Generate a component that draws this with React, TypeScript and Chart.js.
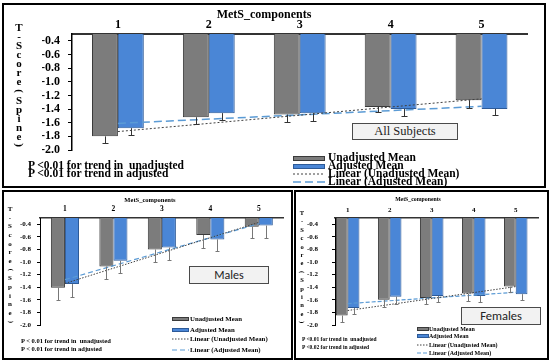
import React, { useEffect, useRef } from 'react';
import { Chart, registerables } from 'chart.js';

Chart.register(...registerables);

// ---------- shared labels ----------
const categories = ['1', '2', '3', '4', '5'];
const yTickValues = [-0.4, -0.6, -0.8, -1.0, -1.2, -1.4, -1.6, -1.8, -2.0];
const yAxisTop = -0.3;
const yAxisBottom = -2.0;
const xAxisTitle = 'MetS_components';
const yAxisTitle = 'T-Score(Spine)';
const seriesNames = ['Unadjusted Mean', 'Adjusted Mean', 'Linear (Unadjusted Mean)', 'Linear (Adjusted Mean)'];

// ---------- All subjects ----------
const allUnadjusted = [-1.80, -1.52, -1.48, -1.37, -1.27];
const allAdjusted = [-1.68, -1.46, -1.46, -1.40, -1.40];
const allUnadjustedErr = [0.10, 0.10, 0.11, 0.08, 0.11];
const allAdjustedErr = [0.10, 0.10, 0.11, 0.10, 0.09];
const allTrendUnadjusted = [-1.73, null, null, null, -1.25];
const allTrendAdjusted = [-1.61, null, null, null, -1.36];
const allPText = ['P <0.01 for trend in  unadjusted', 'P <0.01 for trend in adjusted'];
const allLabel = 'All Subjects';

// ---------- Males ----------
const maleUnadjusted = [-1.41, -1.07, -0.80, -0.57, -0.44];
const maleAdjusted = [-1.35, -0.98, -0.77, -0.64, -0.42];
const maleUnadjustedErr = [0.19, 0.20, 0.20, 0.20, 0.18];
const maleAdjustedErr = [0.20, 0.20, 0.20, 0.19, 0.20];
const maleTrendUnadjusted = [-1.34, null, null, null, -0.37];
const maleTrendAdjusted = [-1.28, null, null, null, -0.39];
const malePText = ['P < 0.01 for trend in  unadjusted', 'P < 0.01 for trend in adjusted'];
const maleLabel = 'Males';

// ---------- Females ----------
const femaleUnadjusted = [-1.85, -1.60, -1.57, -1.50, -1.39];
const femaleAdjusted = [-1.73, -1.55, -1.54, -1.54, -1.51];
const femaleUnadjustedErr = [0.10, 0.11, 0.09, 0.12, 0.09];
const femaleAdjustedErr = [0.10, 0.12, 0.10, 0.10, 0.10];
const femaleTrendUnadjusted = [-1.77, null, null, null, -1.39];
const femaleTrendAdjusted = [-1.66, null, null, null, -1.48];
const femalePText = ['P <0.01 for trend in  unadjusted', 'P <0.02 for trend in adjusted'];
const femaleLabel = 'Females';

// ---------- styles ----------
const SERIF = '"Times New Roman", "Liberation Serif", Tinos, serif';
const SANS = 'Calibri, Carlito, "Liberation Sans", Arial, sans-serif';
const GRAY = '#7c7c7c';
const GRAY_BORDER = '#3a3a3a';
const BLUE = '#4a86d6';
const BLUE_BORDER = '#2d5a98';
const TREND_U = '#404040';
const TREND_A = '#5b9bd5';
const Y_AXIS_W = 30;
const X_AXIS_H = 20;

const errorBarPlugin = {
  id: 'errorBars',
  afterDatasetsDraw(chart: any, _args: any, opts: any) {
    const ctx = chart.ctx;
    const y = chart.scales.y;
    const cap = opts.cap || 3;
    ctx.save();
    ctx.strokeStyle = opts.color || '#444';
    ctx.lineWidth = 1;
    chart.data.datasets.forEach((ds: any, di: number) => {
      if (!ds.errors) return;
      const meta = chart.getDatasetMeta(di);
      meta.data.forEach((bar: any, i: number) => {
        const v = ds.data[i];
        const e = ds.errors[i];
        const x = Math.round(bar.x) + 0.5;
        const y0 = y.getPixelForValue(v);
        const y1 = Math.round(y.getPixelForValue(v - e)) + 0.5;
        ctx.beginPath();
        ctx.moveTo(x, y0);
        ctx.lineTo(x, y1);
        ctx.moveTo(x - cap, y1);
        ctx.lineTo(x + cap, y1);
        ctx.stroke();
      });
    });
    ctx.restore();
  },
};

type Area = { left: number; top: number; right: number; bottom: number };
type PanelCfg = {
  unadj: number[]; adj: number[]; unadjErr: number[]; adjErr: number[];
  trendU: (number | null)[]; trendA: (number | null)[];
  area: Area; xMin: number; xMax: number; catPct: number;
  tickFont: number; catFont: number; tickLen: number; tickPad: number; catPad: number;
  yBorder: number; xBorder: number; cap: number; errColor: string; trendAW: number; dashA: number[]; dashU: number[];
};

function BarPanel({ cfg }: { cfg: PanelCfg }) {
  const ref = useRef<HTMLCanvasElement>(null);
  useEffect(() => {
    const a = cfg.area;
    const padding = { left: a.left - Y_AXIS_W, top: a.top - X_AXIS_H, right: 550 - a.right, bottom: 364 - a.bottom };
    const font = (size: number) => ({ family: SERIF, size, weight: 'bold' as const });
    const chart = new Chart(ref.current as HTMLCanvasElement, {
      type: 'bar',
      data: {
        labels: categories,
        datasets: [
          { type: 'bar', label: seriesNames[0], data: cfg.unadj, errors: cfg.unadjErr, backgroundColor: GRAY, borderColor: GRAY_BORDER, borderWidth: 1, base: yAxisTop, order: 2, barPercentage: 1, categoryPercentage: cfg.catPct } as any,
          { type: 'bar', label: seriesNames[1], data: cfg.adj, errors: cfg.adjErr, backgroundColor: BLUE, borderColor: BLUE_BORDER, borderWidth: 1, base: yAxisTop, order: 2, barPercentage: 1, categoryPercentage: cfg.catPct } as any,
          { type: 'line', label: seriesNames[2], data: cfg.trendU, borderColor: TREND_U, borderWidth: 1, borderDash: cfg.dashU, pointRadius: 0, spanGaps: true, fill: false, order: 0 } as any,
          { type: 'line', label: seriesNames[3], data: cfg.trendA, borderColor: TREND_A, borderWidth: cfg.trendAW, borderDash: cfg.dashA, pointRadius: 0, spanGaps: true, fill: false, order: 1 } as any,
        ],
      },
      options: {
        responsive: false,
        animation: false,
        devicePixelRatio: 1,
        layout: { padding },
        plugins: {
          legend: { display: false },
          tooltip: { enabled: false },
          title: { display: false },
          errorBars: { cap: cfg.cap, color: cfg.errColor },
        } as any,
        scales: {
          x: {
            type: 'linear', position: 'top', min: cfg.xMin, max: cfg.xMax, offset: false,
            afterBuildTicks: (ax: any) => { ax.ticks = categories.map((c) => ({ value: Number(c) })); },
            afterFit: (ax: any) => { ax.height = X_AXIS_H; ax.paddingLeft = 0; ax.paddingRight = 0; ax.paddingTop = 0; ax.paddingBottom = 0; },
            grid: { display: false, drawTicks: false, tickLength: 0, offset: false },
            border: { display: true, color: '#333', width: cfg.xBorder },
            ticks: { font: font(cfg.catFont), color: '#000', padding: cfg.catPad, maxRotation: 0, autoSkip: false, callback: (v: any) => String(v) },
          },
          y: {
            type: 'linear', min: yAxisBottom, max: yAxisTop,
            afterBuildTicks: (ax: any) => { ax.ticks = yTickValues.map((v) => ({ value: v })); },
            afterFit: (ax: any) => { ax.width = Y_AXIS_W; ax.paddingLeft = 0; ax.paddingRight = 0; ax.paddingTop = 0; ax.paddingBottom = 0; },
            grid: { display: true, drawOnChartArea: false, drawTicks: true, tickLength: cfg.tickLen, color: '#000' },
            border: { display: true, color: '#000', width: cfg.yBorder },
            ticks: { font: font(cfg.tickFont), color: '#000', padding: cfg.tickPad, autoSkip: false, callback: (v: any) => Number(v).toFixed(1) },
          },
        } as any,
      },
      plugins: [errorBarPlugin as any],
    });
    return () => chart.destroy();
  }, []);
  return <canvas ref={ref} width={550} height={364} style={{ position: 'absolute', left: 0, top: 0, width: 550, height: 364 }} />;
}

function Txt({ x, y, size, text, bold = true, center = false, family = SERIF }: any) {
  return (
    <div style={{ position: 'absolute', left: x, top: y, transform: `translate(${center ? '-50%' : '0'}, -50%)`, fontFamily: family, fontSize: size, fontWeight: bold ? 700 : 400, whiteSpace: 'pre', lineHeight: 1, color: '#000' }}>{text}</div>
  );
}

function VTitle({ x, y0, step, size }: any) {
  return (
    <>
      {yAxisTitle.split('').map((ch, i) => (
        <div key={i} style={{ position: 'absolute', left: x, top: y0 + i * step, transform: `translate(-50%, -50%)${ch === '(' || ch === ')' ? ' rotate(90deg)' : ''}`, fontFamily: SERIF, fontSize: size, fontWeight: 700, lineHeight: 1, color: '#000' }}>{ch}</div>
      ))}
    </>
  );
}

function Legend({ x, w, h, tx, rows, size, dashU, dashA, trendAW }: any) {
  return (
    <>
      {seriesNames.map((name, i) => {
        const y = rows[i];
        let sw;
        if (i < 2) {
          sw = <div style={{ position: 'absolute', left: x, top: y - h / 2, width: w, height: h, boxSizing: 'border-box', background: i === 0 ? GRAY : BLUE, border: `1px solid ${i === 0 ? GRAY_BORDER : BLUE_BORDER}` }} />;
        } else {
          sw = (
            <svg style={{ position: 'absolute', left: x, top: y - 2 }} width={w} height={4}>
              <line x1={0} y1={2} x2={w} y2={2} stroke={i === 2 ? TREND_U : TREND_A} strokeWidth={i === 2 ? 1 : trendAW} strokeDasharray={(i === 2 ? dashU : dashA).join(' ')} />
            </svg>
          );
        }
        return (
          <React.Fragment key={i}>
            {sw}
            <Txt x={tx} y={y} size={size} text={name} />
          </React.Fragment>
        );
      })}
    </>
  );
}

function LabelBox({ left, top, w, h, text, size, family }: any) {
  return (
    <div style={{ position: 'absolute', left, top, width: w, height: h, boxSizing: 'border-box', background: '#f2f2f2', border: '1px solid #4a4a4a', display: 'flex', alignItems: 'center', justifyContent: 'center', fontFamily: family, fontSize: size, color: '#222', lineHeight: 1 }}>{text}</div>
  );
}

const topCfg: PanelCfg = {
  unadj: allUnadjusted, adj: allAdjusted, unadjErr: allUnadjustedErr, adjErr: allAdjustedErr,
  trendU: allTrendUnadjusted, trendA: allTrendAdjusted,
  area: { left: 72, top: 34, right: 527, bottom: 150 }, xMin: 0.495, xMax: 5.5, catPct: 0.57,
  tickFont: 12, catFont: 12, tickLen: 4, tickPad: 8, catPad: 2,
  yBorder: 1.5, xBorder: 2, cap: 3, errColor: '#333', trendAW: 1.5, dashA: [8, 4], dashU: [2, 2],
};
const maleCfg: PanelCfg = {
  unadj: maleUnadjusted, adj: maleAdjusted, unadjErr: maleUnadjustedErr, adjErr: maleAdjustedErr,
  trendU: maleTrendUnadjusted, trendA: maleTrendAdjusted,
  area: { left: 40, top: 218, right: 283, bottom: 325 }, xMin: 0.485, xMax: 5.5, catPct: 0.58,
  tickFont: 7, catFont: 7.5, tickLen: 3, tickPad: 6, catPad: 4.5,
  yBorder: 1, xBorder: 1.5, cap: 2, errColor: '#777', trendAW: 1.2, dashA: [5, 3], dashU: [1.5, 1.5],
};
const femaleCfg: PanelCfg = {
  unadj: femaleUnadjusted, adj: femaleAdjusted, unadjErr: femaleUnadjustedErr, adjErr: femaleAdjustedErr,
  trendU: femaleTrendUnadjusted, trendA: femaleTrendAdjusted,
  area: { left: 335, top: 218, right: 538, bottom: 325 }, xMin: 0.698, xMax: 5.53, catPct: 0.56,
  tickFont: 7, catFont: 7, tickLen: 3, tickPad: 14, catPad: 4,
  yBorder: 1, xBorder: 1.5, cap: 2, errColor: '#777', trendAW: 1.2, dashA: [4, 2], dashU: [1.5, 1.5],
};

export default function App() {
  const frame = (left: number, top: number, w: number, h: number) => (
    <div style={{ position: 'absolute', left, top, width: w, height: h, boxSizing: 'border-box', border: '2px solid #000' }} />
  );
  return (
    <div style={{ position: 'fixed', left: 0, top: 0, width: 550, height: 364, background: '#fff', overflow: 'hidden' }}>
      {frame(2, 3, 544, 185)}
      {frame(2, 190, 291, 170)}
      {frame(294, 190, 255, 170)}

      <BarPanel cfg={topCfg} />
      <BarPanel cfg={maleCfg} />
      <BarPanel cfg={femaleCfg} />

      {/* All subjects overlays */}
      <Txt x={264} y={14} size={12} text={xAxisTitle} center />
      <VTitle x={19} y0={27} step={9.08} size={11} />
      <Txt x={28} y={166} size={11.5} text={allPText[0]} />
      <Txt x={28} y={174} size={11.5} text={allPText[1]} />
      <Legend x={293} w={32} h={5} tx={328} rows={[158, 166, 173.5, 181.5]} size={11.5} dashU={topCfg.dashU} dashA={topCfg.dashA} trendAW={1.5} />
      <LabelBox left={352} top={123} w={106} h={17} text={allLabel} size={12.5} family={SERIF} />

      {/* Males overlays */}
      <Txt x={150} y={200} size={6.5} text={xAxisTitle} center />
      <VTitle x={10} y0={209} step={8.67} size={7} />
      <Txt x={21} y={340.7} size={6.5} text={malePText[0]} />
      <Txt x={21} y={349.3} size={6.5} text={malePText[1]} />
      <Legend x={172} w={17} h={4} tx={190} rows={[319.3, 330, 339.3, 350]} size={6.8} dashU={maleCfg.dashU} dashA={maleCfg.dashA} trendAW={1.2} />
      <LabelBox left={189} top={266} w={80} h={18} text={maleLabel} size={12} family={SANS} />

      {/* Females overlays */}
      <Txt x={418} y={200} size={5.8} text={xAxisTitle} center />
      <VTitle x={302} y0={213} step={8.4} size={6.5} />
      <Txt x={302} y={340} size={5.5} text={femalePText[0]} />
      <Txt x={302} y={348.3} size={5.5} text={femalePText[1]} />
      <Legend x={417} w={11.5} h={4} tx={429} rows={[329, 336, 344.5, 352.5]} size={6} dashU={femaleCfg.dashU} dashA={femaleCfg.dashA} trendAW={1.2} />
      <LabelBox left={461} top={307} w={80} h={17.5} text={femaleLabel} size={12.5} family={SANS} />
    </div>
  );
}
